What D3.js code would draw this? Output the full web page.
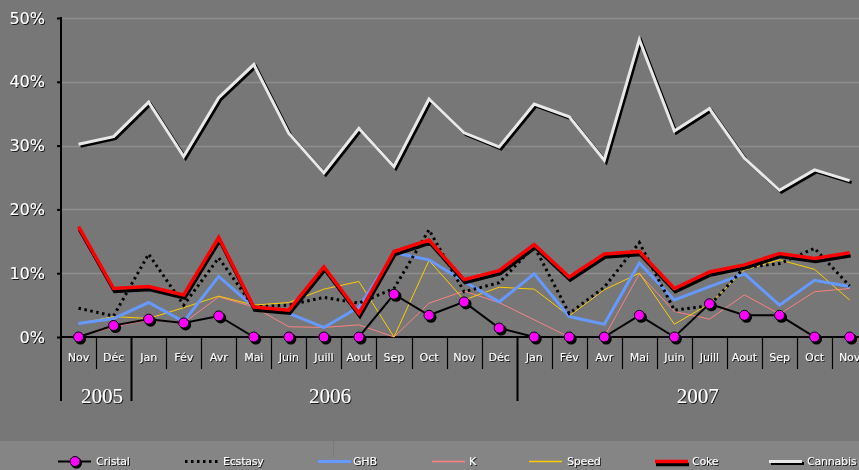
<!DOCTYPE html>
<html><head><meta charset="utf-8">
<script src="https://cdn.jsdelivr.net/npm/d3@7"></script>
<style>
html,body{margin:0;padding:0;background:#777777;overflow:hidden}
svg{display:block}
</style></head>
<body>
<svg id="chart" width="859" height="470"></svg>
<script>
const months = ["Nov","Déc","Jan","Fév","Avr","Mai","Juin","Juill","Aout","Sep","Oct","Nov","Déc","Jan","Fév","Avr","Mai","Juin","Juill","Aout","Sep","Oct","Nov"];
const years = [{label:"2005", from:0, to:2},{label:"2006", from:2, to:13},{label:"2007", from:13, to:23}];
const yTicks = [0,10,20,30,40,50];

const cristal  = [0,1.8,2.8,2.2,3.3,0,0,0,0,6.7,3.4,5.5,1.4,0,0,0,3.4,0,5.2,3.4,3.4,0,0];
const ecstasy  = [4.5,3.3,13.0,5.0,12.4,4.7,5.0,6.2,5.3,7.6,16.8,7.1,8.5,14.2,3.7,7.8,14.8,4.2,4.9,10.9,11.5,13.9,8.0];
const ghb      = [2.1,2.9,5.4,2.4,9.5,4.7,3.7,1.5,4.7,13.2,12.1,8.7,5.5,9.9,3.2,2.0,11.6,5.8,7.9,9.9,5.0,8.9,7.9];
const k        = [0,1.6,2.7,2.2,6.3,4.7,1.6,1.5,1.9,0,5.3,7.2,5.4,2.7,0,0,9.9,4.0,2.8,6.6,3.6,7.1,7.6];
const speed    = [2.1,3.2,2.9,4.6,6.4,5.0,5.4,7.5,8.7,0,12.0,5.8,7.8,7.5,3.3,7.4,10.0,2.0,5.2,10.5,12.1,10.6,5.8];
const coke     = [17.3,7.6,7.9,6.6,15.6,4.7,4.2,11.0,3.7,13.4,15.2,9.0,10.4,14.5,9.4,13.0,13.4,7.6,10.2,11.3,13.1,12.3,13.2];
const cannabis = [30.2,31.4,36.8,28.3,37.5,42.7,31.9,25.7,32.7,26.7,37.3,32.0,29.8,36.5,34.5,27.7,46.6,32.3,35.8,28.0,23.0,26.2,24.5];

const series = [
  {name:"Cristal", values:cristal, color:"#000000", width:2, marker:true},
  {name:"Ecstasy", values:ecstasy, color:"#000000", width:3, dash:"2.5,3.5"},
  {name:"GHB", values:ghb, color:"#6699ff", width:3},
  {name:"K", values:k, color:"#ff8080", width:1},
  {name:"Speed", values:speed, color:"#ffcc00", width:1},
  {name:"Coke", values:coke, color:"#ff0000", width:3.5, shadow:[1,3]},
  {name:"Cannabis", values:cannabis, color:"#e8e8e8", width:3, shadow:[2,2]}
];

const svg = d3.select("#chart");
const defs = svg.append("defs");
const f = defs.append("filter").attr("id","ts").attr("x","-20%").attr("y","-20%").attr("width","140%").attr("height","140%");
f.append("feDropShadow").attr("dx",1).attr("dy",1).attr("stdDeviation",0.3).attr("flood-color","#000").attr("flood-opacity",0.8);

const left = 61, band = 35.05;
const x = d3.scaleBand().domain(d3.range(months.length)).range([left, left + band*months.length]).paddingInner(0).paddingOuter(0);
const y = d3.scaleLinear().domain([0,50]).range([337,18]);
const cx = i => x(i) + x.bandwidth()/2;

// legend band
svg.append("rect").attr("x",0).attr("y",441).attr("width",859).attr("height",29).attr("fill","#858585");
svg.append("line").attr("x1",333.5).attr("x2",333.5).attr("y1",441).attr("y2",457).attr("stroke","#7a7a7a");

// gridlines
svg.append("g").selectAll("line").data(yTicks.filter(d=>d>0)).join("line")
  .attr("x1",left).attr("x2",859).attr("y1",d=>Math.round(y(d))+0.5).attr("y2",d=>Math.round(y(d))+0.5)
  .attr("stroke","#8e8e8e").attr("stroke-width",1.5);

// y axis
const yAxis = d3.axisLeft(y).tickValues(yTicks).tickSize(4).tickFormat(d=>d+"%");
const gy = svg.append("g").attr("transform",`translate(${left},0)`).call(yAxis);
gy.select(".domain").remove();
gy.selectAll(".tick line").attr("stroke","#000").attr("stroke-width",2);
gy.selectAll(".tick text").attr("x",-16).attr("fill","#fff").attr("font-size","16px")
  .attr("font-family","'Comic Sans MS','DejaVu Sans',sans-serif").attr("filter","url(#ts)");
svg.append("line").attr("x1",left).attr("x2",left).attr("y1",17).attr("y2",401).attr("stroke","#000").attr("stroke-width",2);

// x axis (category labels)
const xAxis = d3.axisBottom(x).tickSize(0).tickFormat(i=>months[i]);
const gx = svg.append("g").attr("transform","translate(0,337)").call(xAxis);
gx.select(".domain").remove();
gx.selectAll(".tick text").attr("y",16).attr("dy","0.71em").attr("fill","#fff").attr("font-size","11px")
  .attr("font-family","'Comic Sans MS','DejaVu Sans',sans-serif").attr("filter","url(#ts)");
svg.append("line").attr("x1",left).attr("x2",859).attr("y1",337).attr("y2",337).attr("stroke","#000").attr("stroke-width",2);

// separators
const yearBounds = years.map(d=>d.from);
svg.append("g").selectAll("line").data(d3.range(1, months.length+1)).join("line")
  .attr("x1",i=>Math.round(left+band*i)+0.5).attr("x2",i=>Math.round(left+band*i)+0.5)
  .attr("y1",337).attr("y2",i=>yearBounds.includes(i)?401:369)
  .attr("stroke","#000").attr("stroke-width",i=>yearBounds.includes(i)?2:1.2);

// year labels
svg.append("g").selectAll("text").data(years).join("text")
  .attr("x",d=>(left+band*d.from + Math.min(left+band*d.to, 867))/2 + 6)
  .attr("y",403).attr("text-anchor","middle").attr("fill","#fff").attr("font-size","21px")
  .attr("font-family","'Liberation Serif','Times New Roman',serif").attr("filter","url(#ts)")
  .text(d=>d.label);

// lines
const line = d3.line().x((d,i)=>cx(i)).y(d=>y(d));
const order = ["K","Speed","GHB","Ecstasy","Cristal","Coke","Cannabis"];
order.forEach(n=>{
  const s = series.find(d=>d.name===n);
  if (s.shadow) {
    svg.append("path").datum(s.values).attr("d",line).attr("fill","none")
      .attr("stroke","#000").attr("stroke-width",s.width).attr("stroke-linejoin","miter")
      .attr("transform",`translate(${s.shadow[0]},${s.shadow[1]})`);
  }
  svg.append("path").datum(s.values).attr("d",line).attr("fill","none")
    .attr("stroke",s.color).attr("stroke-width",s.width).attr("stroke-linejoin","miter")
    .attr("stroke-dasharray",s.dash||null);
});
// cristal markers
const cr = series[0];
svg.append("g").selectAll("circle.sh").data(cr.values).join("circle")
  .attr("cx",(d,i)=>cx(i)+2).attr("cy",d=>y(d)+2).attr("r",5.5).attr("fill","#000");
svg.append("g").selectAll("circle.mk").data(cr.values).join("circle")
  .attr("cx",(d,i)=>cx(i)).attr("cy",d=>y(d)).attr("r",5).attr("fill","#ff00ff").attr("stroke","#000").attr("stroke-width",1);

// legend
const legendPos = {Cristal:[58,96],Ecstasy:[185,223],GHB:[318,353],K:[432,469],Speed:[529,567],Coke:[655,692],Cannabis:[769,807]};
const lg = svg.append("g");
series.forEach(s=>{
  const [x0,tx] = legendPos[s.name];
  const ly = 461.5;
  if (s.shadow) {
    lg.append("line").attr("x1",x0+s.shadow[0]).attr("x2",x0+33+s.shadow[0]).attr("y1",ly+s.shadow[1]).attr("y2",ly+s.shadow[1])
      .attr("stroke","#000").attr("stroke-width",s.width);
  }
  lg.append("line").attr("x1",x0).attr("x2",x0+33).attr("y1",ly).attr("y2",ly)
    .attr("stroke",s.color).attr("stroke-width",Math.max(s.width,1.3)).attr("stroke-dasharray",s.dash||null);
  if (s.marker) {
    lg.append("circle").attr("cx",x0+17+1.5).attr("cy",ly+1.5).attr("r",5.5).attr("fill","#000");
    lg.append("circle").attr("cx",x0+17).attr("cy",ly).attr("r",5).attr("fill","#ff00ff").attr("stroke","#000");
  }
  lg.append("text").attr("x",tx).attr("y",ly).attr("dy","0.35em").attr("fill","#fff").attr("font-size","11px")
    .attr("letter-spacing","-0.2px")
    .attr("font-family","'Comic Sans MS','DejaVu Sans',sans-serif").attr("filter","url(#ts)").text(s.name);
});
</script>
</body></html>
